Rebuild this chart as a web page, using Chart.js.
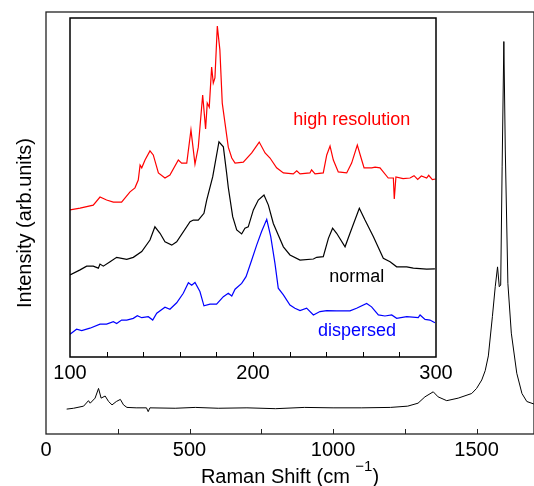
<!DOCTYPE html>
<html>
<head>
<meta charset="utf-8">
<script src="https://cdn.jsdelivr.net/npm/chart.js@4"></script>
<style>
  body { margin: 0; background: #fff; }
  #wrap { position: relative; width: 534px; height: 486px; }
  #main { position: absolute; left: 0; top: 0; }
  #inset { position: absolute; left: 40px; top: 8px; }
</style>
</head>
<body>
<div id="wrap">
  <canvas id="main" width="534" height="486"></canvas>
  <canvas id="inset" width="430" height="390"></canvas>
</div>
<script>
// Full spectrum (main plot)
const mainShift = [72, 96, 131, 148, 154, 171, 183, 192, 206, 218, 230, 245, 259, 270, 282, 314, 350, 356, 362,
  450, 520, 600, 700, 800, 900, 1000, 1100, 1200, 1260, 1296, 1320, 1349, 1366, 1396, 1436, 1483, 1500, 1518,
  1530, 1541, 1555, 1565, 1573, 1579, 1584, 1589, 1595, 1600, 1609, 1621, 1640, 1658, 1675, 1700];
const mainIntensity = [5.9, 6.1, 6.6, 7.9, 7.3, 8.5, 10.8, 8.5, 9, 7.7, 6.9, 7.7, 8.2, 6.9, 6.3, 6.2, 6.2, 5.3, 6.2,
  6.1, 6.3, 6.1, 6.2, 6.0, 6.3, 6.2, 6.2, 6.3, 6.6, 7.3, 8.8, 10, 8.8, 7.9, 8.5, 9.6, 10.8, 12.8,
  15, 18.5, 27.8, 34.9, 39.6, 34.9, 35.3, 63.3, 93, 67.3, 35.7, 23.9, 14.4, 9.6, 7.7, 7.1];
const mainTicks = [0, 250, 500, 750, 1000, 1250, 1500];
const mainTickLabels = [0, 500, 1000, 1500];

// Inset: high resolution
const hiResShift = [100, 105.5, 112.7, 116.4, 120, 123.7, 128.2, 129.1, 132.8, 135.5, 137.3, 138.3, 139.2, 141, 143.7,
  145.5, 148.3, 151.9, 154.6, 159.2, 161, 163.8, 166.1, 168.3, 170.1, 172.5, 174.1, 175, 176.1, 177.4, 178.3,
  179.2, 180.5, 181.9, 183.2, 184.7, 186.5, 188.4, 190.2, 194.7, 199.3, 203.4, 206.6, 209.3, 212.9, 216.6, 222,
  223.9, 225.7, 231.1, 232, 233.9, 238.4, 240.3, 242.1, 243.9, 246.6, 251.2, 253.9, 257, 259.4, 260.7, 264.9,
  266.7, 269.4, 273.9, 276.7, 277.2, 278.1, 282, 285.8, 288, 290, 292, 294.9, 296, 298, 299.8];
const hiResIntensity = [43.4, 43.9, 44.8, 47.2, 46.3, 45.7, 45.7, 46.3, 48.7, 49.9, 52.2, 56.6, 55.8, 58.1, 60.8,
  59.6, 54.3, 52.8, 53.7, 58.1, 57.2, 57.2, 67, 56.9, 61.9, 77.3, 67.3, 74.9, 73.7, 85.5, 80.8,
  82.3, 97.6, 90.6, 74.9, 69, 61.9, 58.7, 57.2, 57.5, 60.2, 63.4, 60.2, 58.7, 55.8, 54.3, 54,
  54.9, 54, 54.3, 55.2, 54, 54.3, 59.6, 62.2, 58.1, 54.6, 54.3, 57.2, 62.5, 58.1, 55.8, 55.8,
  56, 55.8, 52.8, 52.8, 46.6, 53.1, 52.6, 52.8, 53.5, 52.4, 53.4, 52.8, 53.6, 52.3, 52.5];

// Inset: normal
const normalShift = [100, 105.5, 109.1, 112.7, 115.5, 116.4, 118.2, 121.9, 125.5, 131, 134.6, 139.2, 143.7, 146.4,
  149.2, 151.9, 155.6, 158.3, 165.6, 167.4, 170.1, 173.2, 174.7, 178, 181.4, 183.8, 185.6, 186.5, 188.9, 191.1,
  193.8, 195.6, 197.4, 200.2, 202.9, 206, 208.4, 211.1, 213.8, 216.6, 220.2, 225.7, 233, 234.8, 238.4, 241.2,
  243.5, 245.7, 250.3, 253, 258.1, 261.2, 265.8, 271.2, 274.9, 278.5, 284, 287.6, 294.9, 299.4];
const normalIntensity = [24.2, 25.7, 26.8, 26.8, 26.2, 27.4, 26.8, 28.1, 29.4, 28.8, 29.4, 31.1, 34.5, 38.4,
  36.5, 34, 33, 34, 39.9, 40.4, 40.4, 42.4, 46.3, 53.2, 63.5, 62, 54.2, 50, 41.4, 37.5,
  36.3, 38, 38.4, 43.4, 46.3, 47.8, 44.8, 39.4, 36, 32.5, 30.1, 28.6, 28.9, 29.4, 29.6, 35,
  38, 36.5, 32.5, 36.5, 43.9, 40.4, 35.5, 29.1, 28.1, 26.6, 26.6, 26.2, 25.9, 26];

// Inset: dispersed
const dispShift = [100, 103.6, 106.4, 110.9, 116.4, 120, 123.7, 125.5, 128.2, 131, 134.6, 136.8, 139.2, 142.8,
  145.2, 147.4, 151.9, 154.6, 158.3, 161.9, 164.7, 166.5, 168.3, 171, 173.2, 176.5, 180.1, 183.8, 186.5, 188.4,
  190.2, 193.8, 196.2, 199.3, 202, 204.7, 207.5, 209.7, 212, 213.8, 216.6, 220.2, 222.9, 225.7, 229.3, 233,
  236.6, 240.3, 245.7, 253, 256.6, 262.1, 264.8, 268.5, 272.1, 275.8, 278.5, 284, 290.3, 291.3, 294, 296.7, 299.4];
const dispIntensity = [6.7, 8.2, 7.8, 8.5, 9.7, 9.7, 10.4, 9.9, 10.9, 10.9, 11.4, 12.2, 11.6, 11.9,
  10.9, 12.9, 14.7, 14.1, 16, 18.8, 21.9, 21.2, 22, 19.3, 15.1, 15.6, 15.6, 17.8, 18.8, 18,
  20, 21.7, 23.7, 28.6, 33, 37, 40.6, 35.5, 27.6, 20.3, 18.3, 15.3, 14.4, 13.7, 14.4, 12.4,
  13.4, 13.7, 13.6, 13.6, 14.4, 15.8, 14.8, 12.4, 12.1, 12.4, 11.4, 11.9, 11.6, 12.4, 11.1, 10.9, 10.1];

const insetTicks = [100, 120, 140, 160, 180, 200, 220, 240, 260, 280, 300];
const insetTickLabels = [100, 200, 300];

// Curve labels inside the inset (text, shift, intensity)
const insetLabels = [
  { text: 'high resolution', color: '#ff0000', x: 254, y: 68.4 },
  { text: 'normal', color: '#000000', x: 256.7, y: 22.2 },
  { text: 'dispersed', color: '#0000ff', x: 256.8, y: 6.2 }
];

const family = '"Liberation Sans", Arial, Helvetica, sans-serif';

function toPoints(xs, ys) {
  return xs.map((x, i) => ({ x: x, y: ys[i] }));
}

// Box around the plot area plus inward-pointing ticks on the x axis
const frameTicks = {
  id: 'frameTicks',
  beforeDraw(chart, args, opts) {
    if (!opts.fill) return;
    const a = chart.chartArea;
    chart.ctx.save();
    chart.ctx.fillStyle = opts.fill;
    chart.ctx.fillRect(a.left, a.top, a.right - a.left, a.bottom - a.top);
    chart.ctx.restore();
  },
  afterDraw(chart, args, opts) {
    const { ctx, chartArea: a } = chart;
    const x = chart.scales.x;
    ctx.save();
    ctx.strokeStyle = opts.color;
    ctx.lineWidth = 1;
    x.ticks.forEach(t => {
      if (t.value <= x.min || t.value >= x.max) return;
      const px = Math.round(x.getPixelForValue(t.value)) + 0.5;
      ctx.beginPath();
      ctx.moveTo(px, a.bottom);
      ctx.lineTo(px, a.bottom - opts.len);
      ctx.stroke();
    });
    ctx.lineWidth = opts.width;
    ctx.strokeRect(a.left, a.top, a.right - a.left, a.bottom - a.top);
    ctx.restore();
  }
};

// x title with a superscript exponent
const xTitle = {
  id: 'xTitle',
  afterDraw(chart, args, opts) {
    const { ctx, chartArea: a } = chart;
    const big = '20px ' + family, small = '15px ' + family;
    ctx.save();
    ctx.fillStyle = '#000';
    ctx.textAlign = 'left';
    ctx.textBaseline = 'alphabetic';
    ctx.font = big;
    const w1 = ctx.measureText(opts.text).width;
    const w3 = ctx.measureText(opts.close).width;
    ctx.font = small;
    const w2 = ctx.measureText(opts.sup).width;
    let x = (a.left + a.right) / 2 - (w1 + w2 + w3) / 2;
    ctx.font = big;
    ctx.fillText(opts.text, x, opts.y);
    x += w1;
    ctx.font = small;
    ctx.fillText(opts.sup, x, opts.y - 12);
    x += w2;
    ctx.font = big;
    ctx.fillText(opts.close, x, opts.y);
    ctx.restore();
  }
};

// Curve names in the inset, placed in data coordinates
const curveLabels = {
  id: 'curveLabels',
  afterDatasetsDraw(chart) {
    const { ctx, scales } = chart;
    ctx.save();
    ctx.font = '18px ' + family;
    ctx.textAlign = 'center';
    ctx.textBaseline = 'alphabetic';
    insetLabels.forEach(l => {
      ctx.fillStyle = l.color;
      ctx.fillText(l.text, scales.x.getPixelForValue(l.x), scales.y.getPixelForValue(l.y));
    });
    ctx.restore();
  }
};

function xAxis(min, max, tickValues, labelValues, height) {
  return {
    type: 'linear',
    min: min,
    max: max,
    grid: { display: false, drawTicks: false },
    border: { display: false },
    afterBuildTicks: s => { s.ticks = tickValues.map(v => ({ value: v })); },
    ticks: {
      autoSkip: false,
      maxRotation: 0,
      padding: 4,
      color: '#000',
      font: { size: 20, family: family },
      callback: v => labelValues.includes(v) ? String(v) : ''
    },
    afterFit: s => { s.height = height; }
  };
}

new Chart(document.getElementById('main'), {
  type: 'line',
  data: {
    datasets: [{
      data: toPoints(mainShift, mainIntensity),
      borderColor: '#000',
      borderWidth: 1,
      pointRadius: 0,
      tension: 0
    }]
  },
  options: {
    responsive: false,
    animation: false,
    layout: { padding: { top: 12, right: 0, left: 0, bottom: 0 } },
    plugins: {
      legend: { display: false },
      tooltip: { enabled: false },
      frameTicks: { color: '#222', width: 1.3, len: 5 },
      xTitle: { text: 'Raman Shift (cm ', sup: '\u22121', close: ')', y: 483 }
    },
    scales: {
      x: xAxis(0, 1700, mainTicks, mainTickLabels, 52),
      y: {
        min: 0,
        max: 100,
        grid: { display: false },
        border: { display: false },
        ticks: { display: false },
        title: {
          display: true,
          text: 'Intensity (arb.units)',
          color: '#000',
          font: { size: 20, family: family },
          padding: { top: 13, bottom: 0 }
        },
        afterFit: s => { s.width = 46; }
      }
    }
  },
  plugins: [frameTicks, xTitle]
});

new Chart(document.getElementById('inset'), {
  type: 'line',
  data: {
    datasets: [
      { data: toPoints(hiResShift, hiResIntensity), borderColor: '#ff0000', borderWidth: 1.2, pointRadius: 0, tension: 0 },
      { data: toPoints(normalShift, normalIntensity), borderColor: '#000000', borderWidth: 1.2, pointRadius: 0, tension: 0 },
      { data: toPoints(dispShift, dispIntensity), borderColor: '#0000ff', borderWidth: 1.2, pointRadius: 0, tension: 0 }
    ]
  },
  options: {
    responsive: false,
    animation: false,
    layout: { padding: { left: 30, top: 10, right: 34, bottom: 0 } },
    plugins: {
      legend: { display: false },
      tooltip: { enabled: false },
      frameTicks: { color: '#000', width: 1.5, fill: '#fff', len: 5 }
    },
    scales: {
      x: xAxis(100, 300, insetTicks, insetTickLabels, 41),
      y: { display: false, min: 0, max: 100 }
    }
  },
  plugins: [frameTicks, curveLabels]
});
</script>
</body>
</html>
